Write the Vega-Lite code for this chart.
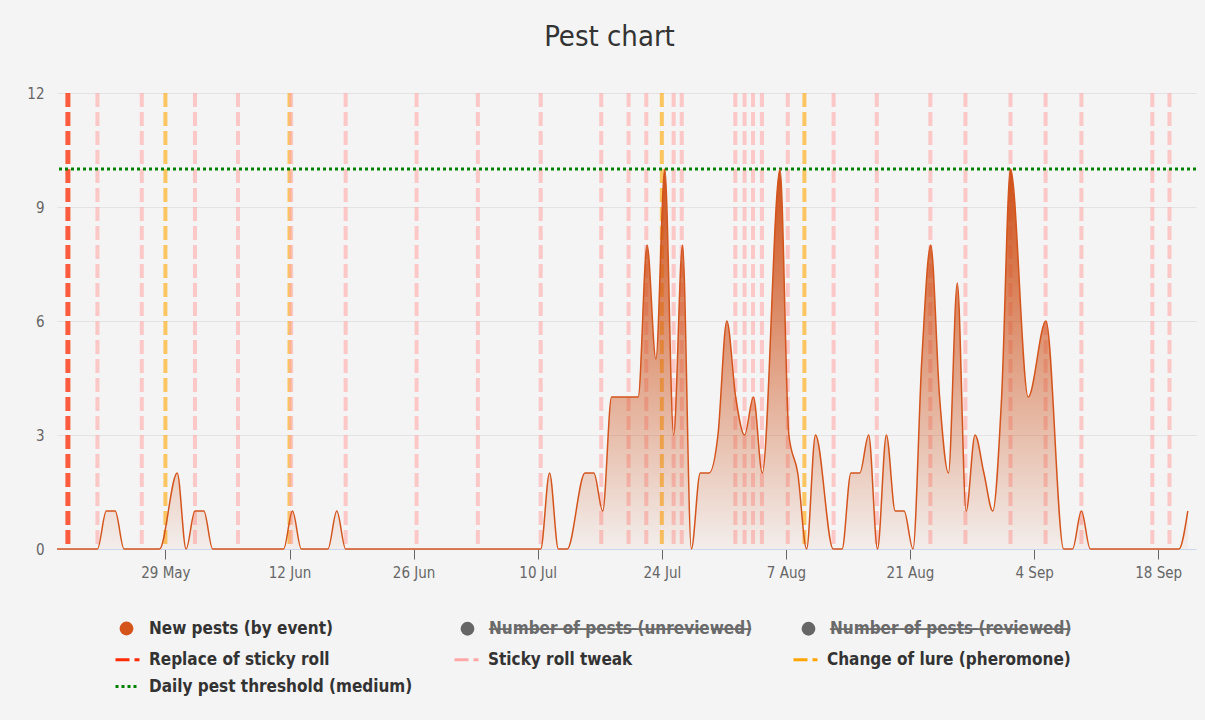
{
  "$schema": "https://vega.github.io/schema/vega-lite/v6.json",
  "width": 1139,
  "height": 456,
  "autosize": {"type": "none"},
  "padding": {"left": 57, "top": 93, "right": 9, "bottom": 171},
  "background": "#f4f4f4",
  "title": {
    "text": "Pest chart",
    "fontSize": 29,
    "font": "DejaVu Sans Condensed",
    "fontWeight": "normal",
    "color": "#333333",
    "anchor": "middle",
    "frame": "group",
    "baseline": "alphabetic",
    "offset": 11,
    "dx": -17
  },
  "datasets": {
    "pests": [
      {"date": "2023-05-16T18:30:00Z", "pests": 0},
      {"date": "2023-05-21T08:00:00Z", "pests": 0},
      {"date": "2023-05-22T08:00:00Z", "pests": 1},
      {"date": "2023-05-23T08:00:00Z", "pests": 1},
      {"date": "2023-05-24T08:00:00Z", "pests": 0},
      {"date": "2023-05-28T08:00:00Z", "pests": 0},
      {"date": "2023-05-30T08:00:00Z", "pests": 2},
      {"date": "2023-05-31T08:00:00Z", "pests": 0},
      {"date": "2023-06-01T08:00:00Z", "pests": 1},
      {"date": "2023-06-02T08:00:00Z", "pests": 1},
      {"date": "2023-06-03T08:00:00Z", "pests": 0},
      {"date": "2023-06-11T08:00:00Z", "pests": 0},
      {"date": "2023-06-12T08:00:00Z", "pests": 1},
      {"date": "2023-06-13T08:00:00Z", "pests": 0},
      {"date": "2023-06-16T08:00:00Z", "pests": 0},
      {"date": "2023-06-17T08:00:00Z", "pests": 1},
      {"date": "2023-06-18T08:00:00Z", "pests": 0},
      {"date": "2023-07-10T08:00:00Z", "pests": 0},
      {"date": "2023-07-11T08:00:00Z", "pests": 2},
      {"date": "2023-07-12T08:00:00Z", "pests": 0},
      {"date": "2023-07-13T08:00:00Z", "pests": 0},
      {"date": "2023-07-15T08:00:00Z", "pests": 2},
      {"date": "2023-07-16T08:00:00Z", "pests": 2},
      {"date": "2023-07-17T08:00:00Z", "pests": 1},
      {"date": "2023-07-18T08:00:00Z", "pests": 4},
      {"date": "2023-07-21T08:00:00Z", "pests": 4},
      {"date": "2023-07-22T08:00:00Z", "pests": 8},
      {"date": "2023-07-23T08:00:00Z", "pests": 5},
      {"date": "2023-07-24T08:00:00Z", "pests": 10},
      {"date": "2023-07-25T08:00:00Z", "pests": 3},
      {"date": "2023-07-26T08:00:00Z", "pests": 8},
      {"date": "2023-07-27T08:00:00Z", "pests": 0},
      {"date": "2023-07-28T08:00:00Z", "pests": 2},
      {"date": "2023-07-29T08:00:00Z", "pests": 2},
      {"date": "2023-07-30T08:00:00Z", "pests": 3},
      {"date": "2023-07-31T08:00:00Z", "pests": 6},
      {"date": "2023-08-01T08:00:00Z", "pests": 4},
      {"date": "2023-08-02T08:00:00Z", "pests": 3},
      {"date": "2023-08-03T08:00:00Z", "pests": 4},
      {"date": "2023-08-04T08:00:00Z", "pests": 2},
      {"date": "2023-08-06T08:00:00Z", "pests": 10},
      {"date": "2023-08-07T08:00:00Z", "pests": 3},
      {"date": "2023-08-08T08:00:00Z", "pests": 2},
      {"date": "2023-08-09T08:00:00Z", "pests": 0},
      {"date": "2023-08-10T08:00:00Z", "pests": 3},
      {"date": "2023-08-12T08:00:00Z", "pests": 0},
      {"date": "2023-08-13T08:00:00Z", "pests": 0},
      {"date": "2023-08-14T08:00:00Z", "pests": 2},
      {"date": "2023-08-15T08:00:00Z", "pests": 2},
      {"date": "2023-08-16T08:00:00Z", "pests": 3},
      {"date": "2023-08-17T08:00:00Z", "pests": 0},
      {"date": "2023-08-18T08:00:00Z", "pests": 3},
      {"date": "2023-08-19T08:00:00Z", "pests": 1},
      {"date": "2023-08-20T08:00:00Z", "pests": 1},
      {"date": "2023-08-21T08:00:00Z", "pests": 0},
      {"date": "2023-08-22T08:00:00Z", "pests": 5},
      {"date": "2023-08-23T08:00:00Z", "pests": 8},
      {"date": "2023-08-24T08:00:00Z", "pests": 4},
      {"date": "2023-08-25T08:00:00Z", "pests": 2},
      {"date": "2023-08-26T08:00:00Z", "pests": 7},
      {"date": "2023-08-27T08:00:00Z", "pests": 1},
      {"date": "2023-08-28T08:00:00Z", "pests": 3},
      {"date": "2023-08-29T08:00:00Z", "pests": 2},
      {"date": "2023-08-30T08:00:00Z", "pests": 1},
      {"date": "2023-08-31T08:00:00Z", "pests": 4},
      {"date": "2023-09-01T08:00:00Z", "pests": 10},
      {"date": "2023-09-03T08:00:00Z", "pests": 4},
      {"date": "2023-09-05T08:00:00Z", "pests": 6},
      {"date": "2023-09-07T08:00:00Z", "pests": 0},
      {"date": "2023-09-08T08:00:00Z", "pests": 0},
      {"date": "2023-09-09T08:00:00Z", "pests": 1},
      {"date": "2023-09-10T08:00:00Z", "pests": 0},
      {"date": "2023-09-20T08:00:00Z", "pests": 0},
      {"date": "2023-09-21T08:00:00Z", "pests": 1}
    ],
    "events": [
      {"date": "2023-05-29T00:00:00Z", "series": "Change of lure (pheromone)"},
      {"date": "2023-06-12T00:00:00Z", "series": "Change of lure (pheromone)"},
      {"date": "2023-07-24T00:00:00Z", "series": "Change of lure (pheromone)"},
      {"date": "2023-08-09T02:00:00Z", "series": "Change of lure (pheromone)"},
      {"date": "2023-05-21T08:00:00Z", "series": "Sticky roll tweak"},
      {"date": "2023-05-26T08:00:00Z", "series": "Sticky roll tweak"},
      {"date": "2023-06-01T08:00:00Z", "series": "Sticky roll tweak"},
      {"date": "2023-06-06T04:30:00Z", "series": "Sticky roll tweak"},
      {"date": "2023-06-12T04:30:00Z", "series": "Sticky roll tweak"},
      {"date": "2023-06-18T08:00:00Z", "series": "Sticky roll tweak"},
      {"date": "2023-06-26T08:00:00Z", "series": "Sticky roll tweak"},
      {"date": "2023-07-03T06:00:00Z", "series": "Sticky roll tweak"},
      {"date": "2023-07-10T08:00:00Z", "series": "Sticky roll tweak"},
      {"date": "2023-07-17T04:00:00Z", "series": "Sticky roll tweak"},
      {"date": "2023-07-20T06:00:00Z", "series": "Sticky roll tweak"},
      {"date": "2023-07-22T06:00:00Z", "series": "Sticky roll tweak"},
      {"date": "2023-07-25T08:00:00Z", "series": "Sticky roll tweak"},
      {"date": "2023-07-26T06:00:00Z", "series": "Sticky roll tweak"},
      {"date": "2023-08-01T07:00:00Z", "series": "Sticky roll tweak"},
      {"date": "2023-08-02T08:00:00Z", "series": "Sticky roll tweak"},
      {"date": "2023-08-03T07:00:00Z", "series": "Sticky roll tweak"},
      {"date": "2023-08-04T07:00:00Z", "series": "Sticky roll tweak"},
      {"date": "2023-08-07T05:00:00Z", "series": "Sticky roll tweak"},
      {"date": "2023-08-12T09:00:00Z", "series": "Sticky roll tweak"},
      {"date": "2023-08-17T06:00:00Z", "series": "Sticky roll tweak"},
      {"date": "2023-08-23T07:00:00Z", "series": "Sticky roll tweak"},
      {"date": "2023-08-27T06:00:00Z", "series": "Sticky roll tweak"},
      {"date": "2023-09-01T08:00:00Z", "series": "Sticky roll tweak"},
      {"date": "2023-09-05T07:00:00Z", "series": "Sticky roll tweak"},
      {"date": "2023-09-09T08:00:00Z", "series": "Sticky roll tweak"},
      {"date": "2023-09-17T08:00:00Z", "series": "Sticky roll tweak"},
      {"date": "2023-09-19T06:30:00Z", "series": "Sticky roll tweak"},
      {"date": "2023-05-18T00:00:00Z", "series": "Replace of sticky roll"}
    ],
    "threshold": [
      {"value": 10, "series": "Daily pest threshold (medium)"}
    ],
    "seriesList": [
      {"series": "New pests (by event)"},
      {"series": "Number of pests (unreviewed)"},
      {"series": "Number of pests (reviewed)"}
    ]
  },
  "layer": [
    {
      "data": {"name": "events"},
      "transform": [{"filter": "datum.series !== 'Replace of sticky roll'"}],
      "mark": {"type": "rule", "strokeWidth": 4, "strokeOpacity": 0.6},
      "encoding": {
        "x": {
          "field": "date",
          "type": "temporal",
          "scale": {
            "type": "utc",
            "domain": [
              {"year": 2023, "month": 5, "date": 16, "hours": 18, "minutes": 30, "utc": true},
              {"year": 2023, "month": 9, "date": 22, "hours": 6, "minutes": 15, "utc": true}
            ]
          },
          "axis": {
            "title": null,
            "grid": false,
            "format": "%-d %b",
            "values": [
              {"year": 2023, "month": 5, "date": 29, "utc": true},
              {"year": 2023, "month": 6, "date": 12, "utc": true},
              {"year": 2023, "month": 6, "date": 26, "utc": true},
              {"year": 2023, "month": 7, "date": 10, "utc": true},
              {"year": 2023, "month": 7, "date": 24, "utc": true},
              {"year": 2023, "month": 8, "date": 7, "utc": true},
              {"year": 2023, "month": 8, "date": 21, "utc": true},
              {"year": 2023, "month": 9, "date": 4, "utc": true},
              {"year": 2023, "month": 9, "date": 18, "utc": true}
            ],
            "domainColor": "#ccd6eb",
            "domainWidth": 1,
            "tickColor": "#666666",
            "tickSize": 10,
            "tickWidth": 1,
            "labelFont": "DejaVu Sans Condensed",
            "labelFontSize": 15,
            "labelColor": "#666666",
            "labelPadding": 6,
            "labelFlush": false,
            "labelOverlap": false
          }
        },
        "color": {
          "field": "series",
          "type": "nominal",
          "scale": {
            "domain": ["Replace of sticky roll", "Sticky roll tweak", "Change of lure (pheromone)", "Daily pest threshold (medium)"],
            "range": ["#ff2a00", "#ffa8a8", "#ffa500", "#008000"]
          },
          "legend": {
            "orient": "none",
            "legendX": 57,
            "legendY": 553,
            "title": null,
            "columns": 3,
            "direction": "horizontal",
            "gridAlign": "all",
            "columnPadding": 35,
            "rowPadding": 5,
            "padding": 0,
            "symbolType": "stroke",
            "symbolSize": 576,
            "symbolStrokeWidth": 3,
            "labelFont": "DejaVu Sans Condensed",
            "labelFontSize": 17,
            "labelFontWeight": "bold",
            "labelColor": "#333333",
            "labelLimit": 400,
            "labelOffset": 8
          }
        },
        "strokeDash": {
          "field": "series",
          "type": "nominal",
          "scale": {
            "domain": ["Replace of sticky roll", "Sticky roll tweak", "Change of lure (pheromone)", "Daily pest threshold (medium)"],
            "range": [[14, 5], [14, 5], [14, 5], [3, 3]]
          },
          "legend": {
            "orient": "none",
            "legendX": 57,
            "legendY": 553,
            "title": null,
            "columns": 3,
            "direction": "horizontal",
            "gridAlign": "all",
            "columnPadding": 35,
            "rowPadding": 5,
            "padding": 0,
            "symbolType": "stroke",
            "symbolSize": 576,
            "symbolStrokeWidth": 3,
            "labelFont": "DejaVu Sans Condensed",
            "labelFontSize": 17,
            "labelFontWeight": "bold",
            "labelColor": "#333333",
            "labelLimit": 400,
            "labelOffset": 8
          }
        }
      }
    },
    {
      "data": {"name": "events"},
      "transform": [{"filter": "datum.series === 'Replace of sticky roll'"}],
      "mark": {"type": "rule", "strokeWidth": 5, "strokeOpacity": 0.75},
      "encoding": {
        "x": {"field": "date", "type": "temporal"},
        "color": {"field": "series", "type": "nominal"},
        "strokeDash": {"field": "series", "type": "nominal"}
      }
    },
    {
      "data": {"name": "threshold"},
      "mark": {"type": "rule", "strokeWidth": 3},
      "encoding": {
        "y": {"field": "value", "type": "quantitative", "axis": {"title": null}},
        "color": {"field": "series", "type": "nominal"},
        "strokeDash": {"field": "series", "type": "nominal"}
      }
    },
    {
      "data": {"name": "seriesList"},
      "transform": [{"filter": "datum.series === 'none'"}],
      "mark": {"type": "point", "filled": true, "color": "#d4541c", "opacity": 1, "strokeWidth": 0},
      "encoding": {
        "shape": {
          "field": "series",
          "type": "nominal",
          "scale": {"domain": ["New pests (by event)"], "range": ["circle"]},
          "legend": {
            "orient": "none",
            "legendX": 61,
            "legendY": 527,
            "title": null,
            "direction": "horizontal",
            "padding": 0,
            "symbolSize": 190,
            "symbolStrokeWidth": 0,
            "symbolFillColor": "#d4541c",
            "labelFont": "DejaVu Sans Condensed",
            "labelFontSize": 17,
            "labelFontWeight": "bold",
            "labelColor": "#333333",
            "labelLimit": 400,
            "labelOffset": 14
          }
        }
      }
    },
    {
      "data": {"name": "seriesList"},
      "transform": [{"filter": "datum.series === 'none'"}],
      "mark": {"type": "point", "filled": true, "opacity": 1, "strokeWidth": 0, "shape": "circle"},
      "encoding": {
        "fill": {
          "field": "series",
          "type": "nominal",
          "scale": {
            "domain": ["Number of pests (unreviewed)", "Number of pests (reviewed)"],
            "range": ["#666666", "#666666"]
          },
          "legend": {
            "orient": "none",
            "legendX": 402,
            "legendY": 527,
            "title": null,
            "columns": 2,
            "direction": "horizontal",
            "gridAlign": "all",
            "columnPadding": 47,
            "padding": 0,
            "symbolType": "circle",
            "symbolSize": 190,
            "symbolStrokeWidth": 0,
            "labelFont": "DejaVu Sans Condensed",
            "labelFontSize": 17,
            "labelFontWeight": "bold",
            "labelColor": "#6a6a6a",
            "labelLimit": 400,
            "labelOffset": 13,
            "labelExpr": "datum.value === 'Number of pests (unreviewed)' ? 'N\u0336u\u0336m\u0336b\u0336e\u0336r\u0336 \u0336o\u0336f\u0336 \u0336p\u0336e\u0336s\u0336t\u0336s\u0336 \u0336(\u0336u\u0336n\u0336r\u0336e\u0336v\u0336i\u0336e\u0336w\u0336e\u0336d\u0336)\u0336' : datum.value === 'Number of pests (reviewed)' ? 'N\u0336u\u0336m\u0336b\u0336e\u0336r\u0336 \u0336o\u0336f\u0336 \u0336p\u0336e\u0336s\u0336t\u0336s\u0336 \u0336(\u0336r\u0336e\u0336v\u0336i\u0336e\u0336w\u0336e\u0336d\u0336)\u0336' : datum.label"
          }
        }
      }
    },
    {
      "data": {"name": "pests"},
      "mark": {
        "type": "area",
        "interpolate": "monotone",
        "opacity": 1,
        "color": {
          "gradient": "linear",
          "x1": 1, "y1": 0, "x2": 1, "y2": 1,
          "stops": [
            {"offset": 0, "color": "rgba(206,80,24,1)"},
            {"offset": 1, "color": "rgba(206,80,24,0.04)"}
          ]
        },
        "line": {"color": "#d4541c", "strokeWidth": 1.5}
      },
      "encoding": {
        "x": {"field": "date", "type": "temporal"},
        "y": {
          "field": "pests",
          "type": "quantitative",
          "scale": {"domain": [0, 12], "nice": false},
          "axis": {
            "title": null,
            "values": [0, 3, 6, 9, 12],
            "grid": true,
            "gridColor": "#e3e3e3",
            "domain": false,
            "ticks": false,
            "labelPadding": 13,
            "labelFont": "DejaVu Sans Condensed",
            "labelFontSize": 15,
            "labelColor": "#666666"
          }
        }
      }
    }
  ],
  "config": {
    "view": {"stroke": null},
    "font": "DejaVu Sans Condensed"
  }
}
